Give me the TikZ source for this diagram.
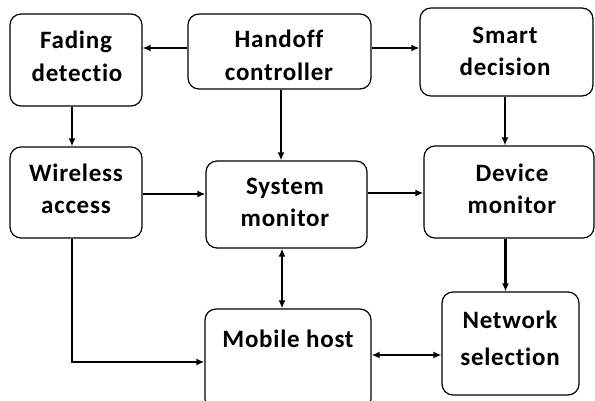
\documentclass[tikz,border=0pt]{standalone}
\usepackage{fontspec}
\setmainfont{Carlito}[Ligatures=NoCommon,LetterSpace=3]
\usetikzlibrary{arrows.meta}
\begin{document}
\begin{tikzpicture}[x=1pt,y=-1pt,
  block/.style={draw=black,line width=1.2pt,rounded corners=11pt,inner sep=0pt},
  lbl/.style={font=\fontsize{25}{30}\selectfont\bfseries,inner sep=0pt,anchor=center},
  link/.style={line width=2.2pt,-{Latex[length=8pt,width=7pt]}},
  biLink/.style={line width=2.2pt,{Latex[length=8pt,width=7pt]}-{Latex[length=8pt,width=7pt]}}]
\useasboundingbox (0,0) rectangle (595,400);
\clip (0,0) rectangle (595,400);
% blocks
\node[block,minimum width=132pt,minimum height=92pt] (fad) at (76,60) {};
\node[block,minimum width=183pt,minimum height=75pt] (hand) at (279.5,51.5) {};
\node[block,minimum width=173pt,minimum height=88pt] (smart) at (506.5,52) {};
\node[block,minimum width=132pt,minimum height=91pt] (wire) at (76,192.5) {};
\node[block,minimum width=161pt,minimum height=87pt] (sys) at (286.5,204.5) {};
\node[block,minimum width=170pt,minimum height=92pt] (dev) at (509,192) {};
\node[block,minimum width=166pt,minimum height=101pt] (mob) at (288,359.5) {};
\node[block,minimum width=137pt,minimum height=103pt] (net) at (510.5,343.5) {};
% labels
\node[lbl] (fadA) at (76,42) {Fading};
\node[lbl] (fadB) at (77,73) {detectio};
\node[lbl] (handA) at (279,39) {Handoff};
\node[lbl] (handB) at (279,72) {controller};
\node[lbl] (smartA) at (505,35) {Smart};
\node[lbl] (smartB) at (505,67) {decision};
\node[lbl] (wireA) at (76,173) {Wireless};
\node[lbl] (wireB) at (76,207) {access};
\node[lbl] (sysA) at (285,188) {System};
\node[lbl] (sysB) at (285,218) {monitor};
\node[lbl] (devA) at (512,173) {Device};
\node[lbl] (devB) at (512,205) {monitor};
\node[lbl] (mobA) at (288,339) {Mobile host};
\node[lbl] (netA) at (510,320) {Network};
\node[lbl] (netB) at (510,357) {selection};
% connectors
\draw[link] ([yshift=3.5pt]hand.west) -- ([yshift=3.5pt]hand.west -| fad.east);
\draw[link] ([yshift=3.5pt]hand.east) -- ([yshift=3.5pt]hand.east -| smart.west);
\draw[link] ([xshift=-4pt]fad.south) -- ([xshift=-4pt]fad.south |- wire.north);
\draw[link] ([xshift=1.5pt]hand.south) -- ([xshift=1.5pt]hand.south |- sys.north);
\draw[link] ([yshift=-1.5pt]wire.east) -- ([yshift=-1.5pt]wire.east -| sys.west);
\draw[link] ([yshift=11.5pt]sys.east) -- ([yshift=11.5pt]sys.east -| dev.west);
\draw[link] ([xshift=-1.5pt]smart.south) -- ([xshift=-1.5pt]smart.south |- dev.north);
\draw[link] ([xshift=-3.5pt]dev.south) -- ([xshift=-3.5pt]dev.south |- net.north);
\draw[biLink] ([xshift=-4.5pt]sys.south) -- ([xshift=-4.5pt]sys.south |- mob.north);
\draw[biLink] ([yshift=4.5pt]mob.east) -- ([yshift=4.5pt]mob.east -| net.west);
\draw[link] ([xshift=-4pt]wire.south) |- ([yshift=-2.5pt]mob.west);
\end{tikzpicture}
\end{document}
